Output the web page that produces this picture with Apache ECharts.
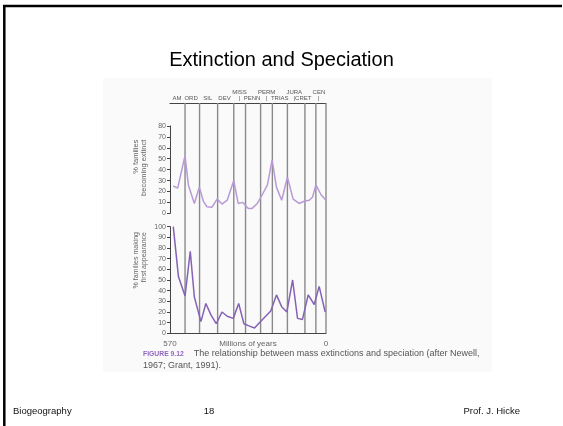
<!DOCTYPE html>
<html>
<head>
<meta charset="utf-8">
<script src="https://cdn.jsdelivr.net/npm/echarts@6/dist/echarts.min.js"></script>
<style>
  html, body { margin: 0; padding: 0; background: #fff; }
  #chart { width: 563px; height: 426px; }
</style>
</head>
<body>
<div id="chart"></div>
<script>
// geologic periods along the top, and where their names sit (millions of years)
const periods = ['AM', 'ORD', 'SIL', 'DEV', 'MISS', 'PENN', 'PERM', 'TRIAS', 'JURA', 'CRET', 'CEN']
const periodLabelAt = [544, 493, 432, 371, 316, 270, 217, 169, 116, 83, 26]
const periodRaised = [false, false, false, false, true, false, true, false, true, false, true]
// period boundaries (vertical lines)
const boundaries = [515, 462, 396, 337, 294, 239, 196, 141, 77, 37, 0]

// % families becoming extinct
const extinctMy = [558, 542, 515, 503, 481, 463, 448, 435, 417, 398, 380, 361, 337, 321, 304, 284, 270, 251, 233, 214, 197, 181, 162, 141, 120, 98, 80, 61, 49, 37, 18, 0]
const extinctPct = [25, 23, 53, 26, 9, 24, 11, 6, 5.5, 13, 8.5, 12, 30, 9, 10, 4.5, 4.5, 9, 17, 26, 49, 24, 12, 33, 13, 9, 11, 12, 15, 26, 17, 12]

// % families making first appearance
const originMy = [558, 539, 515, 496, 481, 457, 439, 420, 401, 380, 361, 339, 319, 300, 282, 261, 239, 217, 202, 181, 162, 143, 122, 104, 86, 65, 43, 25, 3]
const originPct = [100, 53, 35, 77, 34, 11, 28, 17, 9, 20, 16, 14, 28, 9, 7, 5, 11, 17, 21, 36, 25, 20, 50, 14, 13, 36, 27, 44, 20]

const xLabels = [570, 0]

const FONT = 'Liberation Sans, Arial, sans-serif'
const GREY = '#666'
const AXIS = '#444'

const chart = echarts.init(document.getElementById('chart'))

// rotated axis name, lines flush at the top end
const sideName = (width, size) => ({
  rich: {
    a: { width, align: 'right', fontFamily: FONT, fontSize: size, color: GREY, lineHeight: 8 }
  }
})

const yAxisCommon = {
  type: 'value',
  min: 0,
  interval: 10,
  nameLocation: 'middle',
  nameRotate: 90,
  nameGap: 22,
  nameMoveOverlap: false,
  axisLine: { show: true, onZero: false, lineStyle: { color: AXIS, width: 1 } },
  axisTick: { show: true, length: 3, lineStyle: { color: AXIS } },
  axisLabel: { fontFamily: FONT, fontSize: 7, color: GREY, margin: 4 },
  splitLine: { show: false }
}

chart.setOption({
  animation: false,
  title: {
    text: 'Extinction and Speciation',
    left: 'center',
    top: 45,
    textStyle: { fontFamily: FONT, fontSize: 20, fontWeight: 'normal', color: '#000' }
  },
  grid: [
    { left: 170, top: 103, width: 156, height: 230 },
    { left: 170, top: 126, width: 156, height: 87.3 },
    { left: 170, top: 226.7, width: 156, height: 106.6 }
  ],
  xAxis: [
    {
      gridIndex: 0,
      type: 'value',
      min: 0,
      max: 570,
      inverse: true,
      position: 'top',
      axisLine: { show: true, onZero: false, lineStyle: { color: AXIS, width: 1.2 } },
      axisTick: { show: false },
      splitLine: { show: false },
      axisLabel: {
        customValues: periodLabelAt,
        margin: 1,
        fontFamily: FONT,
        fontSize: 6,
        lineHeight: 6.5,
        color: '#555',
        formatter: v => {
          const i = periodLabelAt.indexOf(v)
          if (i < 0) return ''
          return periodRaised[i] ? periods[i] + '\n|' : periods[i]
        }
      }
    },
    {
      gridIndex: 1,
      type: 'value',
      min: 0,
      max: 570,
      inverse: true,
      show: false
    },
    {
      gridIndex: 2,
      type: 'value',
      min: 0,
      max: 570,
      inverse: true,
      name: 'Millions of years',
      nameLocation: 'middle',
      nameGap: 10,
      nameMoveOverlap: false,
      nameTextStyle: { fontFamily: FONT, fontSize: 8, color: GREY, verticalAlign: 'middle' },
      axisLine: { show: true, onZero: false, lineStyle: { color: AXIS, width: 1.2 } },
      axisTick: { show: false },
      splitLine: { show: false },
      axisLabel: {
        customValues: xLabels,
        fontFamily: FONT,
        fontSize: 8,
        color: GREY,
        margin: 6
      }
    }
  ],
  yAxis: [
    { gridIndex: 0, type: 'value', min: 0, max: 1, show: false },
    Object.assign({}, yAxisCommon, {
      gridIndex: 1,
      max: 80,
      name: '{a|% families}\n{a|becoming extinct}',
      nameTextStyle: sideName(60, 7.5)
    }),
    Object.assign({}, yAxisCommon, {
      gridIndex: 2,
      max: 100,
      name: '{a|% families making}\n{a|first appearance}',
      nameTextStyle: sideName(96, 7)
    })
  ],
  series: [
    {
      type: 'custom',
      xAxisIndex: 0,
      yAxisIndex: 0,
      silent: true,
      data: boundaries.map(b => [b, 0]),
      renderItem: (params, api) => {
        const x = api.coord([api.value(0), 0])[0]
        const cs = params.coordSys
        return {
          type: 'line',
          shape: { x1: x, y1: cs.y, x2: x, y2: cs.y + cs.height },
          style: { stroke: '#8a8a8a', lineWidth: 1.4 }
        }
      }
    },
    {
      type: 'line',
      xAxisIndex: 1,
      yAxisIndex: 1,
      symbol: 'none',
      data: extinctMy.map((m, i) => [m, extinctPct[i]]),
      lineStyle: { color: '#b99ad6', width: 1.5 },
      z: 3
    },
    {
      type: 'line',
      xAxisIndex: 2,
      yAxisIndex: 2,
      symbol: 'none',
      data: originMy.map((m, i) => [m, originPct[i]]),
      lineStyle: { color: '#8562b5', width: 1.5 },
      z: 3
    }
  ],
  graphic: [
    { type: 'rect', z: -10, shape: { x: 103, y: 78, width: 389, height: 294 }, style: { fill: '#fafafa' } },
    { type: 'line', shape: { x1: 3, y1: 6, x2: 562, y2: 6 }, style: { stroke: '#000', lineWidth: 2.5 } },
    { type: 'line', shape: { x1: 4.3, y1: 5, x2: 4.3, y2: 426 }, style: { stroke: '#000', lineWidth: 2.5 } },
    {
      type: 'text',
      x: 143,
      y: 354,
      style: {
        text: '{b|FIGURE 9.12}    The relationship between mass extinctions and speciation (after Newell,',
        fontFamily: FONT,
        fontSize: 9,
        fill: '#555',
        verticalAlign: 'middle',
        rich: { b: { fontFamily: FONT, fontSize: 6.8, fontWeight: 'bold', fill: '#9466c0' } }
      }
    },
    {
      type: 'text',
      x: 143,
      y: 366,
      style: { text: '1967; Grant, 1991).', fontFamily: FONT, fontSize: 9, fill: '#555', verticalAlign: 'middle' }
    },
    {
      type: 'text',
      x: 13,
      y: 411,
      style: { text: 'Biogeography', fontFamily: FONT, fontSize: 9.5, fill: '#111', verticalAlign: 'middle' }
    },
    {
      type: 'text',
      x: 209,
      y: 411,
      style: { text: '18', fontFamily: FONT, fontSize: 9.5, fill: '#111', align: 'center', verticalAlign: 'middle' }
    },
    {
      type: 'text',
      x: 520,
      y: 411,
      style: { text: 'Prof. J. Hicke', fontFamily: FONT, fontSize: 9.5, fill: '#111', align: 'right', verticalAlign: 'middle' }
    }
  ]
})
</script>
</body>
</html>
